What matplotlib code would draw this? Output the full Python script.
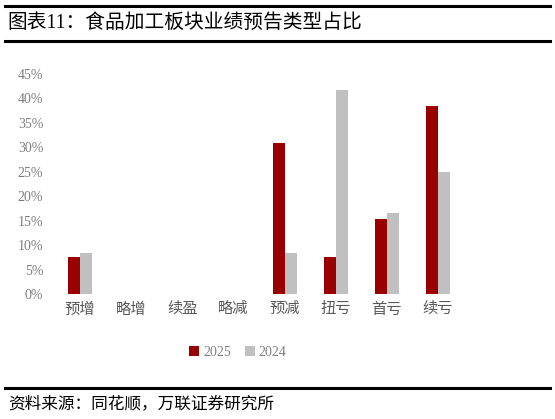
import matplotlib
matplotlib.use("Agg")
import matplotlib.pyplot as plt
import numpy as np
from matplotlib.lines import Line2D

plt.rcParams['font.family'] = ['Liberation Serif', 'Noto Sans CJK SC', 'DejaVu Sans']

categories = ['预增', '略增', '续盈', '略减', '预减', '扭亏', '首亏', '续亏']
share_2025 = [7.6, 0, 0, 0, 30.8, 7.6, 15.3, 38.5]
share_2024 = [8.3, 0, 0, 0, 8.3, 41.7, 16.6, 25.0]
y_ticks = [0, 5, 10, 15, 20, 25, 30, 35, 40, 45]

W, H = 555, 419
fig = plt.figure(figsize=(W / 100, H / 100), dpi=100)

# axes placed in pixel coords: 0% at y=294, 45% at y=74
x_left, x_right = 54.4, 463.6
y_bot, y_top = 294, 74
ax = fig.add_axes([x_left / W, 1 - y_bot / H, (x_right - x_left) / W, (y_bot - y_top) / H])

pos = np.arange(len(categories))
width = 0.235
red = '#990000'
gray = '#C0C0C0'
ax.bar(pos - width / 2, share_2025, width, color=red, label='2025')
ax.bar(pos + width / 2, share_2024, width, color=gray, label='2024')

ax.set_xlim(-0.5, len(categories) - 0.5)
ax.set_ylim(0, 45)
ax.set_yticks(y_ticks)
ax.set_yticklabels([f'{t}%' for t in y_ticks], fontsize=10, color='#7f7f7f')
ax.set_xticks(pos)
ax.set_xticklabels(categories, fontsize=11, color='#595959')
for s in ax.spines.values():
    s.set_visible(False)
ax.tick_params(length=0, pad=6)
ax.tick_params(axis='y', pad=8)

leg = fig.legend(loc='center', bbox_to_anchor=(238 / W, 1 - 352 / H), ncol=2, frameon=False,
                 fontsize=10, handlelength=0.7, handleheight=0.7, handletextpad=0.3,
                 columnspacing=1.0, labelcolor='#7f7f7f')

# header / footer rules
for yy in (6, 41, 388):
    fig.add_artist(Line2D([5 / W, 550 / W], [1 - yy / H, 1 - yy / H], color='black', lw=2.2,
                          transform=fig.transFigure))

fig.text(7 / W, 1 - 23 / H, '图表11：食品加工板块业绩预告类型占比', fontsize=14.2,
         va='center', ha='left', color='black')
fig.text(8 / W, 1 - 404 / H, '资料来源：同花顺，万联证券研究所', fontsize=12,
         va='center', ha='left', color='black', style='italic')

fig.savefig('out.png', dpi=100)
